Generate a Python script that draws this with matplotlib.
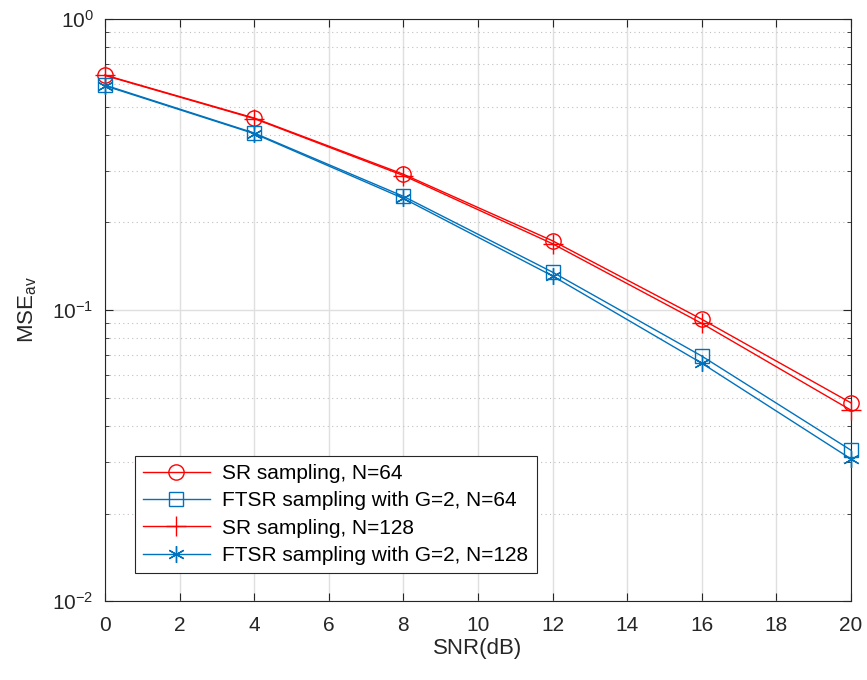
import numpy as np
import matplotlib.pyplot as plt
from matplotlib.ticker import LogLocator, NullFormatter

plt.rcParams['font.family'] = ['Liberation Sans', 'DejaVu Sans']
plt.rcParams['mathtext.fontset'] = 'custom'
plt.rcParams['mathtext.rm'] = 'Liberation Sans'
plt.rcParams['mathtext.it'] = 'Liberation Sans'
plt.rcParams['mathtext.default'] = 'regular'

snr = [0, 4, 8, 12, 16, 20]
sr_64 = [0.642, 0.457, 0.293, 0.173, 0.093, 0.048]
ftsr_64 = [0.593, 0.406, 0.246, 0.135, 0.0695, 0.033]
sr_128 = [0.640, 0.455, 0.290, 0.169, 0.090, 0.0453]
ftsr_128 = [0.590, 0.404, 0.242, 0.131, 0.0657, 0.0308]

red = '#ff0000'
blue = '#0072bd'
dark = '#262626'

fig = plt.figure(figsize=(8.67, 6.80), dpi=100)
ax = fig.add_axes([0.121, 0.116, 0.8605, 0.856])

ax.semilogy(snr, sr_64, '-o', color=red, mfc='none', ms=11, lw=1.0, mew=1.0,
            label='SR sampling, N=64', clip_on=False, zorder=4)
ax.semilogy(snr, ftsr_64, '-s', color=blue, mfc='none', ms=10, lw=1.0, mew=1.0,
            label='FTSR sampling with G=2, N=64', clip_on=False, zorder=4)
ax.semilogy(snr, sr_128, '-+', color=red, ms=14, lw=1.0, mew=1.0,
            label='SR sampling, N=128', clip_on=False, zorder=4)
ax.semilogy(snr, ftsr_128, '-', color=blue, ms=12, lw=1.0, mew=1.0,
            label='FTSR sampling with G=2, N=128', marker=(6, 2, 0),
            clip_on=False, zorder=4)

ax.set_xlim(0, 20)
ax.set_ylim(1e-2, 1)
ax.set_xticks(range(0, 21, 2))
ax.yaxis.set_minor_locator(LogLocator(base=10, subs=np.arange(2, 10)))
ax.yaxis.set_minor_formatter(NullFormatter())

ax.grid(True, which='major', color='#dfdfdf', lw=1.0)
ax.grid(True, which='minor', axis='y', color='#c0c0c0', lw=0.8, ls=(0, (1, 3)))
ax.set_axisbelow(True)

ax.tick_params(which='both', direction='in', top=True, right=True, labelsize=15,
               colors=dark)
ax.tick_params(axis='x', pad=11)
ax.tick_params(axis='y', pad=8)
ax.tick_params(which='major', length=6)
ax.tick_params(which='minor', length=3)
for s in ax.spines.values():
    s.set_color(dark)
    s.set_linewidth(0.8)

ax.set_xlabel('SNR(dB)', fontsize=16, color=dark, labelpad=2)
ax.set_ylabel('MSE$_{av}$', fontsize=16, color=dark, labelpad=10)

leg = ax.legend(loc='lower left', bbox_to_anchor=(0.04, 0.048), fontsize=15,
                fancybox=False, edgecolor=dark, framealpha=1, handlelength=3.2,
                handletextpad=0.6, borderpad=0.4, labelspacing=0.4,
                borderaxespad=0)
leg.get_frame().set_linewidth(0.8)
for t in leg.get_texts():
    t.set_color('#000000')

fig.savefig('out.png', dpi=100)
